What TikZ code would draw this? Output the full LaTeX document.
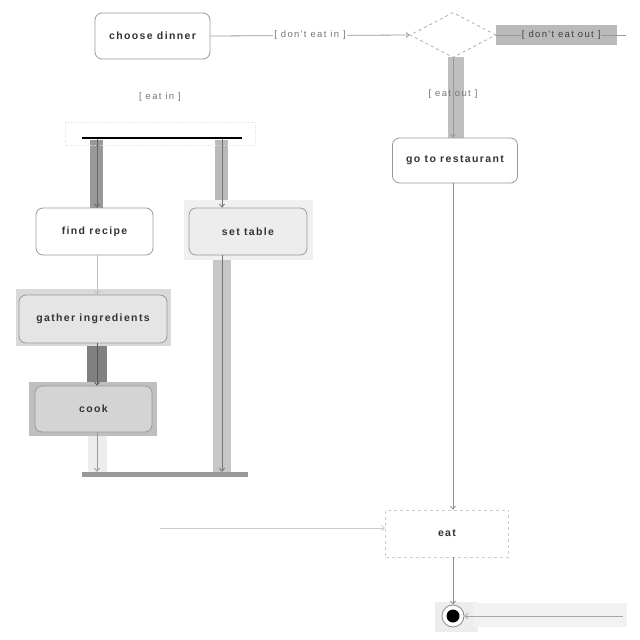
\documentclass[tikz,border=0pt]{standalone}
\usepackage{fontspec}
\setmainfont{Liberation Sans}
\newfontfamily\nodefont{Liberation Sans}[LetterSpace=13]
\newfontfamily\guardfont{Liberation Sans}[LetterSpace=14]
\usetikzlibrary{shapes.geometric,arrows.meta}
\definecolor{linegray}{HTML}{999999}
\definecolor{txt}{HTML}{333333}
\definecolor{gtxt}{HTML}{777777}
\tikzset{
  act/.style={draw=linegray, line width=0.8pt, rounded corners=7pt, fill=white,
    font=\nodefont\bfseries\fontsize{10.5}{12}\selectfont, text=txt, inner sep=0pt},
  guard/.style={font=\guardfont\fontsize{9.5}{11}\selectfont, text=gtxt, inner sep=1pt},
  flow/.style={draw=linegray, line width=0.8pt, -{Straight Barb[length=3pt,width=5pt]}},
  band/.style={draw=none},
  bar/.style={inner sep=0pt, draw=none}
}
\begin{document}
\begin{tikzpicture}[x=1pt,y=-1pt]
\useasboundingbox (0,0) rectangle (640,640);
\fill[white] (0,0) rectangle (640,640);
% highlight bands
\fill[band,fill=black!40] (90,140) rectangle (103,208);
\fill[band,fill=black!27] (215,140) rectangle (228,208);
\fill[band,fill=black!25] (448,57) rectangle (464,140);
\fill[band,fill=black!22] (213,257) rectangle (231,472);
\fill[band,fill=black!50] (87,346) rectangle (107,386);
\fill[band,fill=black!7] (88,436) rectangle (107,472);
\fill[band,fill=black!6] (184,200) rectangle (313,260);
\fill[band,fill=black!15] (16,289) rectangle (171,346);
\fill[band,fill=black!25] (29,382) rectangle (157,436);
\fill[band,fill=black!7] (435,602) rectangle (478,632);
\fill[band,fill=black!5] (473,603) rectangle (627,627);
\fill[band,fill=black!27] (496,25) rectangle (617,45);
\draw[black!12, dotted] (65,122) rectangle (255,145);
% nodes
\node[act, minimum width=115pt, minimum height=46pt] (choose) at (152.5,36) {choose dinner};
\node[diamond, draw=black!35, dashed, line width=0.7pt, inner sep=0pt, minimum width=86pt, minimum height=45pt, aspect=1.9] (dec) at (453,35) {};
\node[bar, fill=black, minimum width=160pt, minimum height=2.5pt] (fork) at (162,138) {};
\node[act, minimum width=117pt, minimum height=47pt] (find) at (94.5,231.5) {find recipe};
\node[act, fill=black!7, minimum width=118pt, minimum height=47pt] (set) at (248,231.5) {set table};
\node[act, fill=black!10, minimum width=148pt, minimum height=48pt] (gather) at (93,319) {gather ingredients};
\node[act, fill=black!17, minimum width=117pt, minimum height=46pt] (cook) at (93.5,409) {cook};
\node[bar, fill=black!40, minimum width=166pt, minimum height=5pt] (join) at (165,474.5) {};
\node[act, minimum width=125pt, minimum height=45pt] (rest) at (455,160.5) {go to restaurant};
\node[act, draw=black!20, dashed, rounded corners=0pt, minimum width=123pt, minimum height=47pt] (eat) at (447,533.5) {eat};
\node[circle, draw=black!45, line width=0.8pt, fill=white, minimum size=22pt, inner sep=0pt] (final) at (453,616) {};
\fill[black] (final.center) circle (6.5pt);
\coordinate (lstart) at (160,528);
\coordinate (rstart) at (623,616);
\coordinate (dend) at (626,35);
\coordinate (findx) at (97,0);
\coordinate (setx) at (222,0);
% connectors
\draw[flow] (choose.east) -- node[guard, fill=white] {[ don't eat in ]} (dec.west);
\draw[linegray, line width=0.8pt] (dec.east) -- node[guard, fill=black!27, text=black!75] {[ don't eat out ]} (dend);
\draw[flow] (dec.south) -- node[guard, pos=0.45] {[ eat out ]} (rest.north -| dec.south);
\node[guard] (eatin) at (160,97) {[ eat in ]};
\draw[flow, draw=black!60] (fork.south -| findx) -- (find.north -| findx);
\draw[flow, draw=black!55] (fork.south -| setx) -- (set.north -| setx);
\draw[flow, draw=black!25] (find.south -| findx) -- (gather.north -| findx);
\draw[flow, draw=black!65] (gather.south -| findx) -- (cook.north -| findx);
\draw[flow] (cook.south -| findx) -- (join.north -| findx);
\draw[flow, draw=black!55] (set.south -| setx) -- (join.north -| setx);
\draw[flow, draw=black!45] (final |- rest.south) -- (final |- eat.north);
\draw[flow, draw=black!20] (lstart) -- (eat.west |- lstart);
\draw[flow, draw=black!45] (final |- eat.south) -- (final.north);
\draw[flow, draw=black!35] (rstart) -- (final.east);
\end{tikzpicture}
\end{document}
